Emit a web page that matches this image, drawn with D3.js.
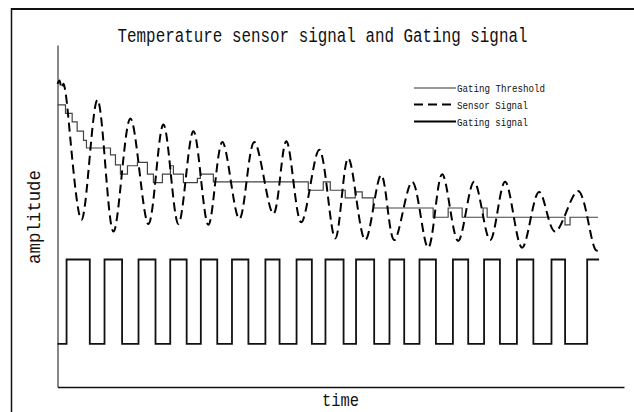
<!DOCTYPE html>
<html>
<head>
<meta charset="utf-8">
<script src="https://cdn.jsdelivr.net/npm/d3@7"></script>
<style>
  html, body { margin: 0; padding: 0; background: #fff; }
  svg { display: block; }
  text { font-family: "Liberation Mono", "DejaVu Sans Mono", monospace; fill: #111; }
</style>
</head>
<body>
<svg id="chart" width="634" height="412"></svg>
<script>
// ---- data (time in s, amplitude in arbitrary units) ----
const titleText = "Temperature sensor signal and Gating signal";
const xLabel = "time";
const yLabel = "amplitude";
const legendLabels = ["Gating Threshold", "Sensor Signal", "Gating signal"];

// Sensor signal (time, amplitude)
const sensorT = [0, 0.35, 0.71, 1.06, 1.41, 4.23, 7.05, 9.88, 12.87, 16.05, 18.69, 21.34, 23.99, 26.63, 29.10, 32.10, 34.74, 38.10, 40.39, 43.03, 46.21, 49.03, 51.32, 54.32, 57.14, 59.44, 62.61, 65.43, 67.90, 70.72, 73.54, 76.37, 79.01, 82.01, 85.01, 87.83, 91.89, 95.06, 95.77];
const sensorA = [3.08, 3.12, 3.03, 3.08, 2.98, 1.47, 2.89, 1.33, 2.67, 1.42, 2.60, 1.42, 2.52, 1.41, 2.39, 1.48, 2.39, 1.54, 2.40, 1.44, 2.30, 1.25, 2.20, 1.23, 2.00, 1.23, 1.92, 1.14, 2.01, 1.22, 1.92, 1.23, 1.92, 1.14, 1.80, 1.33, 1.81, 1.11, 1.11];

// Gating threshold (step series)
const threshT = [0, 1.41, 2.59, 3.47, 4.59, 5.11, 9.35, 10.23, 11.11, 12.35, 14.11, 15.87, 16.93, 18.52, 19.93, 20.46, 22.22, 24.69, 25.22, 27.51, 44.27, 46.91, 48.15, 50.79, 52.56, 53.79, 55.73, 66.31, 68.96, 71.43, 75.13, 75.84, 89.59, 90.48, 95.41];
const threshA = [2.83, 2.73, 2.63, 2.52, 2.41, 2.32, 2.24, 2.12, 2.01, 2.11, 2.15, 2.01, 1.91, 2.01, 2.11, 2.01, 1.91, 1.96, 2.01, 1.92, 1.82, 1.92, 1.82, 1.73, 1.80, 1.73, 1.61, 1.50, 1.61, 1.50, 1.61, 1.50, 1.41, 1.50, 1.50];

// Gating signal (step series, 0 = off, 1 = on)
const gateT = [0, 1.6, 5.7, 8.3, 11.4, 14.3, 17.3, 19.9, 22.8, 25.3, 28.2, 30.8, 33.7, 36.7, 39.2, 42.2, 44.9, 47.3, 50.5, 52.7, 55.9, 58.6, 61.2, 63.9, 66.8, 69.8, 72.5, 75.3, 78.1, 81.1, 84.0, 87.2, 89.6, 93.5, 95.6];
const gateV = [0, 1, 0, 1, 0, 1, 0, 1, 0, 1, 0, 1, 0, 1, 0, 1, 0, 1, 0, 1, 0, 1, 0, 1, 0, 1, 0, 1, 0, 1, 0, 1, 0, 1, 1];

const timeDomain = [0, 100];
const ampDomain = [-0.51, 3.54];

// ---- drawing ----
const svg = d3.select("#chart");
const W = 634, H = 412;
const plot = { left: 57.5, right: 624, top: 45, bottom: 387 };

// outer frame (top + left edges visible)
svg.append("line").attr("x1", 11.5).attr("x2", W).attr("y1", 9).attr("y2", 9)
  .attr("stroke", "#111").attr("stroke-width", 2);
svg.append("line").attr("x1", 11.5).attr("x2", 11.5).attr("y1", 8).attr("y2", H)
  .attr("stroke", "#111").attr("stroke-width", 1.5);

const x = d3.scaleLinear().domain(timeDomain).range([plot.left, plot.right]);
const y = d3.scaleLinear().domain(ampDomain).range([plot.bottom, plot.top]);

// axes: only the domain lines
svg.append("g").attr("transform", `translate(0,${plot.bottom})`)
  .call(d3.axisBottom(x).ticks(0).tickSizeOuter(0))
  .call(g => g.select(".domain").attr("stroke", "#111").attr("stroke-width", 1.3));
svg.append("g").attr("transform", `translate(${plot.left},0)`)
  .call(d3.axisLeft(y).ticks(0).tickSizeOuter(0))
  .call(g => g.select(".domain").attr("stroke", "#111").attr("stroke-width", 1));

const sensor = sensorT.map((t, i) => [t, sensorA[i]]);
const thresh = threshT.map((t, i) => [t, threshA[i]]);
const gate = gateT.map((t, i) => [t, gateV[i]]);

// gating signal
svg.append("path").datum(gate)
  .attr("fill", "none").attr("stroke", "#111").attr("stroke-width", 1.8)
  .attr("d", d3.line().x(d => x(d[0])).y(d => y(d[1])).curve(d3.curveStepAfter));

// threshold
svg.append("path").datum(thresh)
  .attr("fill", "none").attr("stroke", "#444").attr("stroke-width", 1.2)
  .attr("d", d3.line().x(d => x(d[0])).y(d => y(d[1])).curve(d3.curveStepAfter));

// sensor signal
svg.append("path").datum(sensor)
  .attr("fill", "none").attr("stroke", "#000").attr("stroke-width", 2)
  .attr("stroke-dasharray", "9,5")
  .attr("d", d3.line().x(d => x(d[0])).y(d => y(d[1])).curve(d3.curveCatmullRom.alpha(0.5)));

// title
svg.append("text").attr("x", 322.5).attr("y", 42).attr("text-anchor", "middle")
  .attr("font-size", 20).attr("textLength", 410).attr("lengthAdjust", "spacingAndGlyphs")
  .text(titleText);

// axis labels
svg.append("text").attr("x", 340.5).attr("y", 406).attr("text-anchor", "middle")
  .attr("font-size", 19).attr("textLength", 37).attr("lengthAdjust", "spacingAndGlyphs")
  .text(xLabel);
svg.append("text").attr("transform", "translate(40,217) rotate(-90)").attr("text-anchor", "middle")
  .attr("font-size", 19).attr("textLength", 94).attr("lengthAdjust", "spacingAndGlyphs")
  .text(yLabel);

// legend
const legendY = [88, 104.5, 121.5];
const legendStyles = [
  { w: 1.2, dash: null, c: "#333" },
  { w: 2, dash: "9,5", c: "#000" },
  { w: 2, dash: null, c: "#000" }
];
const legendTextLen = [88, 71, 71];
const lg = svg.append("g");
legendLabels.forEach((lab, i) => {
  const st = legendStyles[i];
  const ln = lg.append("line").attr("x1", 414).attr("x2", 456)
    .attr("y1", legendY[i]).attr("y2", legendY[i])
    .attr("stroke", st.c).attr("stroke-width", st.w);
  if (st.dash) ln.attr("stroke-dasharray", st.dash).attr("stroke-dashoffset", 0);
  lg.append("text").attr("x", 457).attr("y", legendY[i] + 4)
    .attr("font-size", 11.5).attr("textLength", legendTextLen[i]).attr("lengthAdjust", "spacingAndGlyphs")
    .text(lab);
});
</script>
</body>
</html>
